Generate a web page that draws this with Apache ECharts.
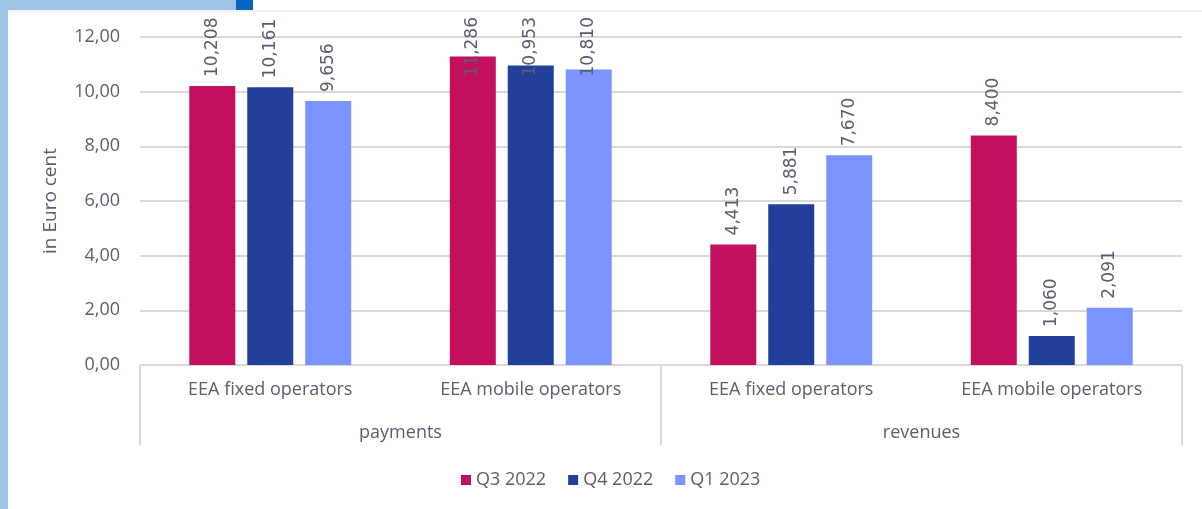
<!DOCTYPE html>
<html>
<head>
<meta charset="utf-8">
<script src="https://cdn.jsdelivr.net/npm/echarts@6/dist/echarts.min.js"></script>
<style>
  html, body { margin: 0; padding: 0; background: #fff; }
  #chart { width: 1202px; height: 509px; }
</style>
</head>
<body>
<div id="chart"></div>
<script>
const operators = ['EEA fixed operators', 'EEA mobile operators', 'EEA fixed operators', 'EEA mobile operators']
const groups = ['payments', 'revenues']
const seriesNames = ['Q3 2022', 'Q4 2022', 'Q1 2023']
const q3_2022 = [10.208, 11.286, 4.413, 8.4]
const q4_2022 = [10.161, 10.953, 5.881, 1.06]
const q1_2023 = [9.656, 10.81, 7.67, 2.091]

const colors = ['#c40f5e', '#223f9a', '#7b93ff']
const textColor = '#5a5d6f'
const lineColor = '#d9d9d9'
const uiFont = 'Open Sans'
const labelTop = 17

const chart = echarts.init(document.getElementById('chart'))

const makeSeries = (name, data, color) => {
  return {
    name: name,
    type: 'bar',
    data: data,
    barWidth: 46,
    barGap: '26%',
    itemStyle: { color: color },
    label: {
      show: true,
      position: 'top',
      rotate: 90,
      align: 'left',
      verticalAlign: 'middle',
      distance: 9,
      fontFamily: 'DejaVu Sans',
      fontSize: 17,
      color: textColor,
      formatter: (p) => p.value.toFixed(3).replace('.', ',')
    },
    // like Excel: labels that would leave the plot area are pushed down onto the bar
    labelLayout: (params) => {
      const r = params.labelRect
      if (r.y < labelTop) {
        return { y: labelTop + r.height }
      }
      return {}
    }
  }
}

chart.setOption({
  animation: false,
  textStyle: { fontFamily: uiFont },
  graphic: [
    { type: 'rect', shape: { x: 0, y: 0, width: 8, height: 509 }, style: { fill: '#9dc3e6' } },
    { type: 'rect', shape: { x: 0, y: 0, width: 236, height: 10 }, style: { fill: '#9dc3e6' } },
    { type: 'rect', shape: { x: 236, y: 0, width: 17, height: 10 }, style: { fill: '#0563c1' } },
    { type: 'line', shape: { x1: 8, y1: 11, x2: 1202, y2: 11 }, style: { stroke: '#e3e3e3', lineWidth: 1 } }
  ],
  legend: {
    data: seriesNames,
    left: 456,
    top: 466,
    itemWidth: 10,
    itemHeight: 10,
    itemGap: 22,
    icon: 'rect',
    textStyle: { fontFamily: uiFont, fontSize: 18, color: textColor }
  },
  grid: {
    left: 140,
    right: 20,
    top: 37,
    bottom: 144
  },
  xAxis: [
    {
      type: 'category',
      data: operators,
      axisLine: { lineStyle: { color: lineColor, width: 1 } },
      axisTick: { show: false },
      axisLabel: { fontFamily: uiFont, fontSize: 18, color: textColor, margin: 16, interval: 0 }
    },
    {
      type: 'category',
      data: groups,
      position: 'bottom',
      axisLine: { show: false },
      axisTick: { show: true, length: 80, lineStyle: { color: lineColor, width: 2 } },
      axisLabel: { fontFamily: uiFont, fontSize: 18, color: textColor, margin: 59 }
    }
  ],
  yAxis: {
    type: 'value',
    min: 0,
    max: 12,
    interval: 2,
    name: 'in Euro cent',
    nameLocation: 'middle',
    nameGap: 80,
    nameTextStyle: { fontFamily: uiFont, fontSize: 19, color: textColor },
    axisLine: { show: false },
    axisTick: { show: false },
    splitLine: { lineStyle: { color: lineColor, width: 2 } },
    axisLabel: {
      fontFamily: uiFont,
      fontSize: 18,
      color: textColor,
      margin: 20,
      formatter: (v) => v.toFixed(2).replace('.', ',')
    }
  },
  series: [
    makeSeries(seriesNames[0], q3_2022, colors[0]),
    makeSeries(seriesNames[1], q4_2022, colors[1]),
    makeSeries(seriesNames[2], q1_2023, colors[2])
  ]
})
</script>
</body>
</html>
